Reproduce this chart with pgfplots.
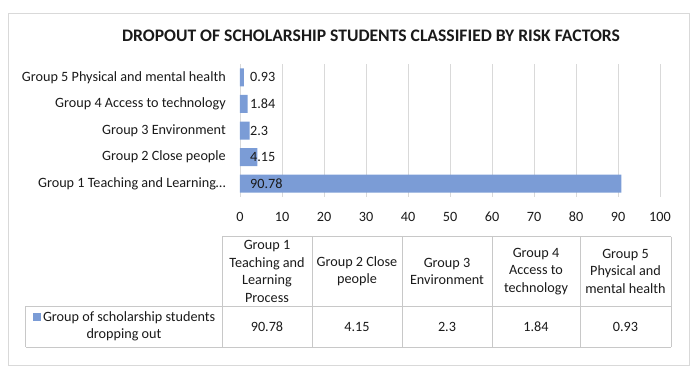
\documentclass[border=0pt]{standalone}
\usepackage{pgfplots}
\pgfplotsset{compat=1.18}
\usepackage{fontspec}
\setmainfont{Carlito}
\definecolor{barblue}{HTML}{7B9CD6}
\definecolor{gridgray}{HTML}{D9D9D9}
\definecolor{tablegray}{HTML}{C8C8C8}
\definecolor{txt}{HTML}{1A1A1A}
\begin{document}
\begin{tikzpicture}[x=1pt,y=1pt]
\path[use as bounding box] (0,0) rectangle (694,378);
\draw[gridgray, line width=0.8pt] (8,13) rectangle (689,364.5);
\node[font=\bfseries\fontsize{17.6}{21}\selectfont, text=txt] at (371,342) {DROPOUT OF SCHOLARSHIP STUDENTS CLASSIFIED BY RISK FACTORS};
\begin{axis}[
  at={(240pt,181pt)}, anchor=south west,
  scale only axis, width=420pt, height=133pt,
  xmin=0, xmax=100, ymin=0.5, ymax=5.5,
  xtick={0,10,...,100}, ytick={1,2,3,4,5},
  yticklabels={Group 1 Teaching and Learning…, Group 2 Close people, Group 3 Environment, Group 4 Access to technology, Group 5 Physical and mental health},
  axis line style={draw=none},
  major tick length=0pt,
  xmajorgrids, major grid style={gridgray, line width=0.8pt},
  ticklabel style={font=\fontsize{14.2}{16}\selectfont, text=txt, inner sep=0pt},
  every x tick label/.append style={anchor=center, yshift=-19.7pt},
  every y tick label/.append style={anchor=east, xshift=-14pt},
  /pgf/number format/assume math mode=true,
  clip=false,
]
\addplot[xbar, bar shift=0pt, bar width=18pt, fill=barblue, draw=none]
  coordinates {(90.78,1) (4.15,2) (2.3,3) (1.84,4) (0.93,5)};
\addplot[draw=none, mark=none, nodes near coords, point meta=explicit symbolic,
  nodes near coords align=horizontal,
  every node near coord/.append style={anchor=west, inner sep=0pt, xshift=10pt, font=\fontsize{14.2}{16}\selectfont, text=txt}]
  coordinates {(0,1) [90.78] (0,2) [4.15] (0,3) [2.3] (0,4) [1.84] (0,5) [0.93]};
\end{axis}
% data table
\begin{scope}[tablegray, line width=0.8pt]
\draw (222,141.3) -- (671,141.3);
\draw (25.8,72) -- (671,72);
\draw (25.8,31) -- (671,31);
\draw (25.8,72) -- (25.8,31);
\foreach \xx in {222,312,402,492,580,671} {\draw (\xx,141.3) -- (\xx,31);}
\end{scope}
\begin{scope}[every node/.style={font=\fontsize{14.2}{17.5}\selectfont, text=txt, align=center, inner sep=0pt}]
\node at (267,106.7) {Group 1\\Teaching and\\Learning\\Process};
\node at (357,106.7) {Group 2 Close\\people};
\node at (447,106.7) {Group 3\\Environment};
\node at (536,106.7) {Group 4\\Access to\\technology};
\node at (625.5,106.7) {Group 5\\Physical and\\mental health};
\node at (124,51.5) {\textcolor{barblue}{\rule{8pt}{8pt}}\,Group of scholarship students\\dropping out};
\node at (267,51.5) {90.78};
\node at (357,51.5) {4.15};
\node at (447,51.5) {2.3};
\node at (536,51.5) {1.84};
\node at (625.5,51.5) {0.93};
\end{scope}
\end{tikzpicture}
\end{document}
